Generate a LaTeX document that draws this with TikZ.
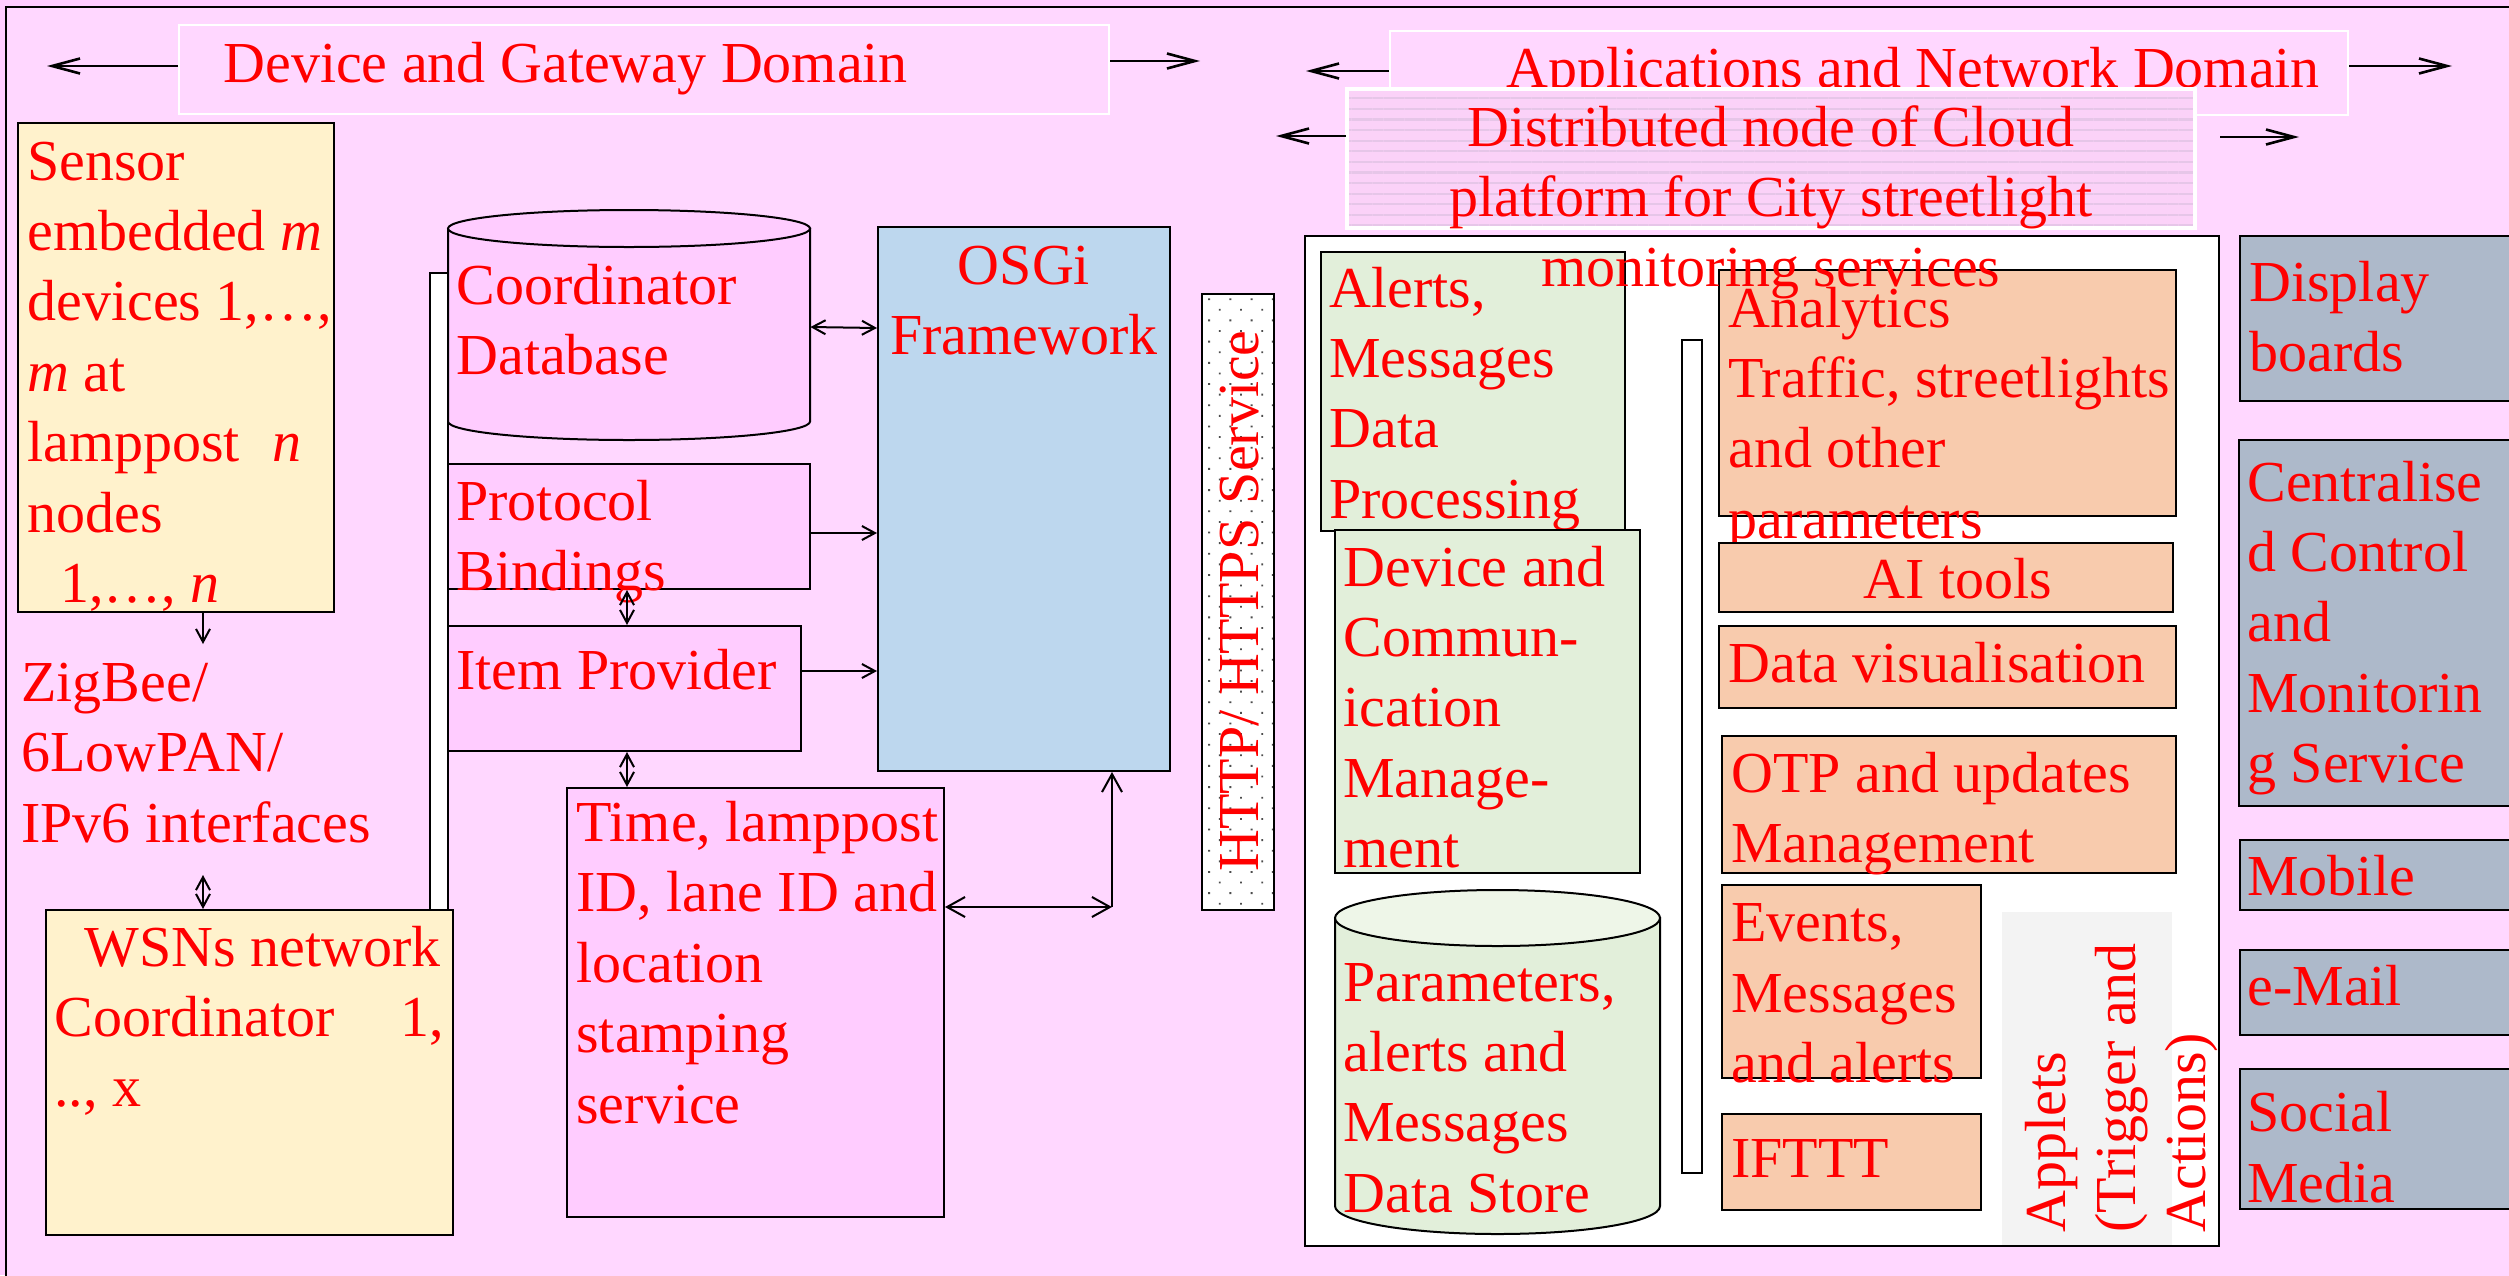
\documentclass[tikz,border=0pt]{standalone}
\usepackage{fontspec}
\setmainfont{Liberation Serif}
\usetikzlibrary{arrows.meta,fit,patterns.meta}

\definecolor{bgout}{HTML}{FFCCFF}
\definecolor{bgin}{HTML}{FFD7FF}
\definecolor{cream}{HTML}{FFF2CC}
\definecolor{pinkbox}{HTML}{FFCCFF}
\definecolor{bluebox}{HTML}{BDD7EE}
\definecolor{greenbox}{HTML}{E2EFDA}
\definecolor{greentop}{HTML}{EEF6E8}
\definecolor{peach}{HTML}{F8CBAD}
\definecolor{slate}{HTML}{ADB9CA}
\definecolor{appletgray}{HTML}{F3F3F3}
\definecolor{stripebg}{HTML}{FBD2F8}
\definecolor{stripeln}{HTML}{E6C6E8}

% multi-line text blocks whose baseline is that of the first line
\newcommand\ltab[1]{\begin{tabular}[t]{@{}l@{}}#1\end{tabular}}
\newcommand\ctab[1]{\begin{tabular}[t]{@{}c@{}}#1\end{tabular}}

\begin{document}
\begin{tikzpicture}[x=0.5pt,y=-0.5pt,
  box/.style={draw=black, line width=1pt, inner sep=0pt},
  ghost/.style={inner sep=0pt},
  txt/.style={inner sep=0pt, anchor=base west, text=red,
              font=\fontsize{29pt}{35.2pt}\selectfont},
  ctxt/.style={txt, anchor=base},
  domarrow/.style={line width=1.3pt, -{Straight Barb[length=14pt,width=7.5pt]}},
  link/.style={line width=1pt, -{Straight Barb[length=6.5pt,width=7pt]}},
  dlink/.style={line width=1pt,
     {Straight Barb[length=6.5pt,width=7pt]}-{Straight Barb[length=6.5pt,width=7pt]}},
  blink/.style={line width=1pt,
     {Straight Barb[length=9pt,width=10pt]}-{Straight Barb[length=9pt,width=10pt]}},
  uplink/.style={line width=1pt, -{Straight Barb[length=9pt,width=10pt]}},
]
\useasboundingbox (0,0) rectangle (2509,1275);
\fill[bgout] (0,0) rectangle (2509,1275);
\filldraw[fill=bgin, draw=black, line width=1pt] (6,7) rectangle (2560,1320);

% ---------- domain headers ----------
\node[draw=white, line width=1pt, inner sep=0pt, fit={(179,25) (1109,114)}] (dgd) {};
\node[txt] (dgdt) at (223,82) {Device and Gateway Domain};
\coordinate (dgdL) at (47,66);
\coordinate (dgdR) at (1200,61);
\draw[domarrow] (dgd.west |- dgdL) -- (dgdL);
\draw[domarrow] (dgd.east |- dgdR) -- (dgdR);

\node[draw=white, line width=1pt, inner sep=0pt, fit={(1390,31) (2348,115)}] (andom) {};
\node[txt] (andomt) at (1506,87) {Applications and Network Domain};
\coordinate (andomL) at (1306,71);
\coordinate (andomR) at (2452,66);
\draw[domarrow] (andom.west |- andomL) -- (andomL);
\draw[domarrow] (andom.east |- andomR) -- (andomR);

\node[draw=white, line width=2pt, inner sep=0pt, preaction={fill=stripebg},
      pattern={Lines[distance=5.3pt, line width=1.1pt]}, pattern color=stripeln,
      fit={(1347,89) (2195,228)}] (dist) {};
\coordinate (distL) at (1276,136);
\coordinate (distR) at (2299,137);
\draw[domarrow] (dist.west |- distL) -- (distL);
\draw[domarrow] ([xshift=12pt]dist.east |- distR) -- (distR);

% ---------- device and gateway side ----------
\node[box, fill=cream, fit={(18,123) (334,612)}] (sensor) {};
\node[txt] (sensort) at (27,180) {\ltab{Sensor\\embedded \textit{m}\\devices 1,…,\\\textit{m} at\\lamppost\hspace*{16pt}\textit{n}\\nodes\\\hspace*{16.5pt}1,…, \textit{n}}};

\node[txt] (zig) at (21,701.5) {\ltab{ZigBee/\\6LowPAN/\\IPv6 interfaces}};
\coordinate (zigtop) at (203,644);
\coordinate (zigbot) at (203,875);

\node[box, line width=0.8pt, fill=white, fit={(430,273) (448,910)}] (lbar) {};

\node[box, fill=cream, fit={(46,910) (453,1235)}] (wsn) {};
\node[txt] (wsnt) at (54,966) {\ltab{\hspace*{15pt}WSNs network\\Coordinator\hspace*{33pt}1,\\.., x}};

% coordinator database cylinder
\node[ghost, fit={(448,210) (810,440)}] (coorddb) {};
\filldraw[fill=pinkbox, line width=1pt] (448,228.5) -- (448,421.5)
   arc[start angle=180, end angle=0, x radius=181, y radius=18.5] -- (810,228.5) -- cycle;
\filldraw[fill=pinkbox, line width=1pt] (629,228.5) ellipse [x radius=181, y radius=18.5];
\node[txt] (coorddbt) at (456,304) {\ltab{Coordinator\\Database}};

\node[box, fill=pinkbox, fit={(448,464) (810,589)}] (protocol) {};
\node[txt] (protocolt) at (456,520) {\ltab{Protocol\\Bindings}};

\node[box, fill=pinkbox, fit={(448,626) (801,751)}] (item) {};
\node[txt] (itemt) at (456,689) {Item Provider};

\node[box, fill=pinkbox, fit={(567,788) (944,1217)}] (time) {};
\node[txt] (timet) at (576,841.4) {\ltab{Time, lamppost\\ID, lane ID and\\location\\stamping\\service}};

\node[box, fill=bluebox, fit={(878,227) (1170,771)}] (osgi) {};
\node[ctxt] (osgit) at (1024,284) {\ctab{OSGi\\Framework}};

\node[box, preaction={fill=white},
      pattern={Dots[distance=7.5pt, angle=45, radius=0.65pt]}, pattern color=black!70,
      fit={(1202,294) (1274,910)}] (http) {};
\node[txt, rotate=90] (httpt) at (1258,872) {HTTP/ HTTPS Service};

% connectors
\draw[link] (sensor.south -| zigtop) -- (zigtop);
\draw[dlink] (zigbot) -- (wsn.north -| zigbot);
\draw[dlink] (coorddb.east |- 0,327) -- (osgi.west |- 0,328);
\draw[link] (protocol.east |- 0,533) -- (osgi.west |- 0,533);
\draw[dlink] (protocol.south -| 627,0) -- (item.north -| 627,0);
\draw[link] (item.east |- 0,671) -- (osgi.west |- 0,671);
\draw[dlink] (item.south -| 627,0) -- (time.north -| 627,0);
\coordinate (corner) at (1112,907);
\draw[blink] (time.east |- corner) -- (corner);
\draw[uplink] (corner) -- (osgi.south -| corner);

% ---------- cloud node ----------
\node[box, fill=white, fit={(1305,236) (2219,1246)}] (cloud) {};

\node[box, fill=greenbox, fit={(1321,252) (1625,531)}] (alerts) {};
\node[txt] (alertst) at (1329,307) {\ltab{Alerts,\\Messages\\Data\\Processing}};

\node[box, fill=greenbox, fit={(1335,530) (1640,873)}] (devmgmt) {};
\node[txt] (devmgmtt) at (1343,586) {\ltab{Device and\\Commun-\\ication\\Manage-\\ment}};

% data store cylinder
\node[ghost, fit={(1335,890) (1660,1234)}] (store) {};
\filldraw[fill=greenbox, line width=1pt] (1335,918) -- (1335,1206)
   arc[start angle=180, end angle=0, x radius=162.5, y radius=28] -- (1660,918) -- cycle;
\filldraw[fill=greentop, line width=1pt] (1497.5,918) ellipse [x radius=162.5, y radius=28];
\node[txt] (storet) at (1343,1001) {\ltab{Parameters,\\alerts and\\Messages\\Data Store}};

\node[box, line width=0.8pt, fill=white, fit={(1682,340) (1702,1173)}] (rbar) {};

\node[box, fill=peach, fit={(1719,270) (2176,516)}] (analytics) {};
\node[txt] (analyticst) at (1728,327) {\ltab{Analytics\\Traffic, streetlights\\and other\\parameters}};

\node[box, fill=peach, fit={(1719,543) (2173,612)}] (ai) {};
\node[ctxt] (ait) at (1958,598) {AI tools};

\node[box, fill=peach, fit={(1719,626) (2176,708)}] (datavis) {};
\node[txt] (datavist) at (1728,682) {Data visualisation};

\node[box, fill=peach, fit={(1722,736) (2176,873)}] (otp) {};
\node[txt] (otpt) at (1731,792) {\ltab{OTP and updates\\Management}};

\node[box, fill=peach, fit={(1722,885) (1981,1078)}] (events) {};
\node[txt] (eventst) at (1731,941.6) {\ltab{Events,\\Messages\\and alerts}};

\node[box, fill=peach, fit={(1722,1114) (1981,1210)}] (ifttt) {};
\node[txt] (ifttt-t) at (1731,1177.6) {IFTTT};

\node[ghost, fill=appletgray, fit={(2002,912) (2172,1245)}] (applets) {};
\node[txt, rotate=90] (appletst) at (2065,1233) {\ltab{Applets\\(Trigger and\\Actions)}};

% ---------- output channels ----------
\node[box, fill=slate, fit={(2240,236) (2540,401)}] (display) {};
\node[txt] (displayt) at (2249,301) {\ltab{Display\\boards}};

\node[box, fill=slate, fit={(2239,440) (2540,806)}] (central) {};
\node[txt] (centralt) at (2247,501) {\ltab{Centralise\\d Control\\and\\Monitorin\\g Service}};

\node[box, fill=slate, fit={(2240,840) (2540,910)}] (mobile) {};
\node[txt] (mobilet) at (2247,895.7) {Mobile};

\node[box, fill=slate, fit={(2240,950) (2540,1035)}] (email) {};
\node[txt] (emailt) at (2247,1005) {e-Mail};

\node[box, fill=slate, fit={(2240,1069) (2540,1209)}] (social) {};
\node[txt] (socialt) at (2247,1131.7) {\ltab{Social\\Media}};

% title of the cloud node, set over the boxes below it
\node[ctxt] (distt) at (1771,146) {\ctab{Distributed node of Cloud\\platform for City streetlight\\monitoring services}};
\end{tikzpicture}
\end{document}
